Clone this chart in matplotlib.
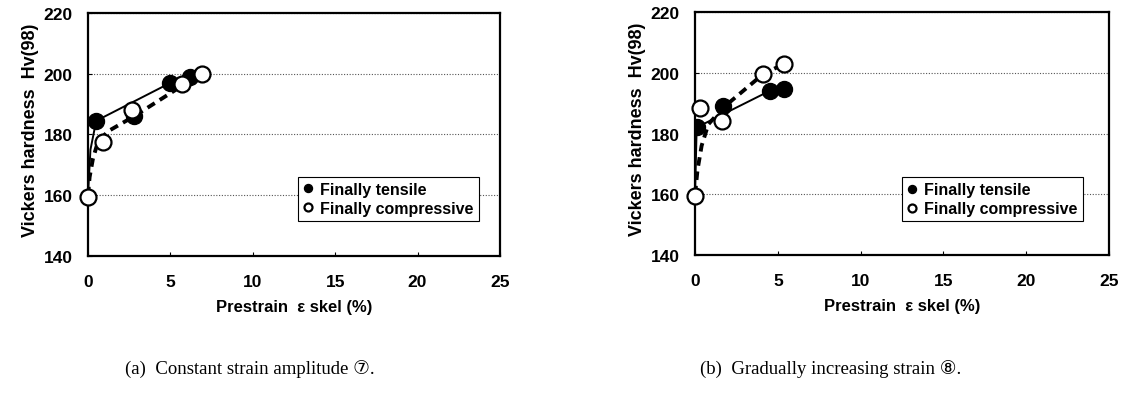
import matplotlib
matplotlib.use("Agg")
import matplotlib.pyplot as plt

# panel (a): constant strain amplitude
a_tens_x = [0.5, 2.8, 5.0, 6.2]
a_tens_y = [184.5, 186.0, 197.0, 199.0]
a_comp_x = [0.0, 0.9, 2.7, 5.7, 6.9]
a_comp_y = [159.5, 177.5, 188.0, 196.5, 200.0]
a_solid_x = [0.0, 0.15, 0.5, 5.0, 6.2]
a_solid_y = [160.0, 175.0, 184.5, 197.0, 199.0]
a_dash_x = [0.0, 0.1, 0.3, 0.6, 1.2, 2.8, 5.7, 6.9]
a_dash_y = [160.0, 166.0, 172.0, 177.5, 181.0, 186.0, 196.0, 200.0]

# panel (b): gradually increasing strain
b_tens_x = [0.1, 1.7, 4.5, 5.4]
b_tens_y = [182.0, 189.0, 194.0, 194.5]
b_comp_x = [0.0, 0.3, 1.65, 4.1, 5.4]
b_comp_y = [159.5, 188.5, 184.0, 199.5, 203.0]
b_solid_x = [0.0, 0.1, 4.5, 5.4]
b_solid_y = [160.0, 182.0, 194.0, 194.5]
b_dash_x = [0.0, 0.15, 0.4, 0.8, 1.7, 4.1, 5.4]
b_dash_y = [160.0, 168.0, 176.0, 183.0, 188.5, 199.5, 203.0]

xticks = [0, 5, 10, 15, 20, 25]
yticks = [140, 160, 180, 200, 220]
captions = ["(a)  Constant strain amplitude \u2466.", "(b)  Gradually increasing strain \u2467."]

sans = ["Liberation Sans", "DejaVu Sans"]
serif = ["Liberation Serif", "DejaVu Sans", "Noto Sans CJK JP"]

fig = plt.figure(figsize=(11.25, 4.1), dpi=100)
ax_a = fig.add_axes([0.0782, 0.3732, 0.3662, 0.5927])
ax_b = fig.add_axes([0.6178, 0.3756, 0.3680, 0.5927])

panels = [
    (ax_a, a_tens_x, a_tens_y, a_comp_x, a_comp_y, a_solid_x, a_solid_y, a_dash_x, a_dash_y, (0.51, 0.145)),
    (ax_b, b_tens_x, b_tens_y, b_comp_x, b_comp_y, b_solid_x, b_solid_y, b_dash_x, b_dash_y, (0.50, 0.14)),
]

for ax, tx, ty, cx, cy, sx, sy, dx, dy, leg_pos in panels:
    ax.plot(sx, sy, color="black", lw=1.4, zorder=3)
    ax.plot(dx, dy, color="black", lw=2.8, ls=(0, (2.2, 1.5)), zorder=3)
    ax.plot(tx, ty, ls="none", marker="o", ms=11.5, mfc="black", mec="black",
            zorder=4, label="Finally tensile")
    ax.plot(cx, cy, ls="none", marker="o", ms=11.5, mfc="white", mec="black",
            mew=1.6, zorder=5, label="Finally compressive", clip_on=False)

    ax.set_xlim(0, 25)
    ax.set_ylim(140, 220)
    ax.set_xticks(xticks)
    ax.set_yticks(yticks)
    ax.yaxis.grid(True, color="#555555", ls=(0, (1, 1.5)), lw=0.8)
    ax.set_axisbelow(True)
    for sp in ax.spines.values():
        sp.set_linewidth(1.6)
    ax.tick_params(direction="in", length=3, width=0.8)
    ax.tick_params(axis="x", pad=13)
    ax.tick_params(axis="y", pad=11)
    for lab in ax.get_xticklabels() + ax.get_yticklabels():
        lab.set_family(sans)
        lab.set_fontweight("bold")
        lab.set_fontsize(12.5)

    ax.set_ylabel("Vickers hardness  Hv(98)", family=sans, fontweight="bold",
                  fontsize=13, labelpad=3, y=0.52)
    ax.set_xlabel("Prestrain  \u03b5 skel (%)", family=sans, fontweight="bold",
                  fontsize=12, labelpad=7)

    leg = ax.legend(loc="lower left", bbox_to_anchor=leg_pos, fancybox=False,
                    edgecolor="black", framealpha=1, markerscale=0.5,
                    handlelength=0.6, handletextpad=0.5, borderpad=0.3,
                    borderaxespad=0, labelspacing=0.25,
                    prop={"family": sans, "weight": "bold", "size": 11.5})
    leg.get_frame().set_linewidth(0.8)

fig.text(0.222, 0.10, captions[0], ha="center", va="center", family=serif, fontsize=13.5)
fig.text(0.738, 0.10, captions[1], ha="center", va="center", family=serif, fontsize=13.5)

fig.savefig("out.png", dpi=100)
